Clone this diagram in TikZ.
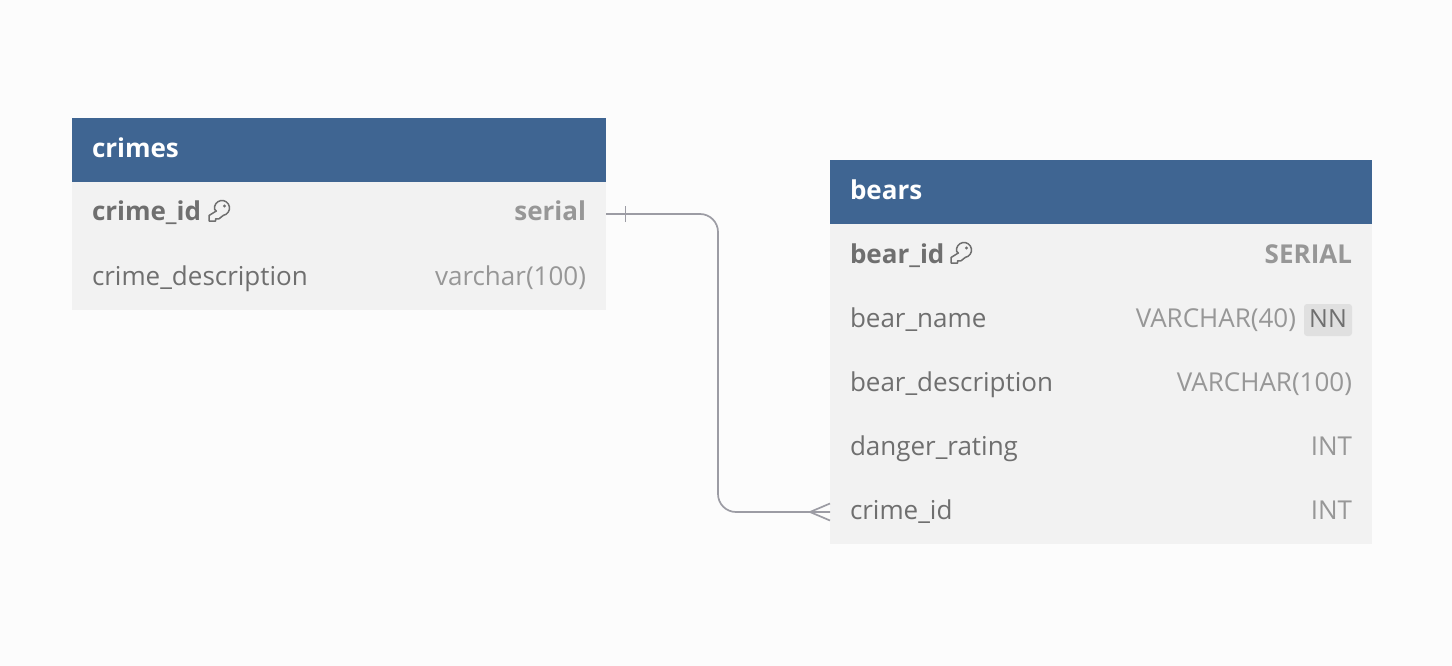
\documentclass[tikz,border=0pt]{standalone}
\usepackage{fontspec}
\setmainfont{Open Sans}
\usetikzlibrary{positioning}
\definecolor{pagebg}{HTML}{FCFCFC}
\definecolor{headblue}{HTML}{3F6592}
\definecolor{rowgray}{HTML}{F2F2F2}
\definecolor{namegray}{HTML}{6F6F6F}
\definecolor{typegray}{HTML}{979797}
\definecolor{nngray}{HTML}{E0E0E0}
\definecolor{relgray}{HTML}{9C9CA4}
\tikzset{
  head/.style={fill=headblue, rectangle, inner sep=0pt, outer sep=0pt, minimum height=64pt},
  row/.style={fill=rowgray, rectangle, inner sep=0pt, outer sep=0pt, minimum height=64pt},
  cell/.style={inner sep=0pt, outer sep=0pt, text height=19pt, text depth=5pt, font=\fontsize{26}{30}\selectfont},
  title/.style={cell, text=white, text height=19.5pt, text depth=4.5pt, font=\fontsize{26}{30}\selectfont\bfseries},
  colname/.style={cell, text=namegray},
  coltype/.style={cell, text=typegray},
  keyname/.style={colname, font=\fontsize{26}{30}\selectfont\bfseries},
  keytype/.style={coltype, font=\fontsize{26}{30}\selectfont\bfseries},
  nntag/.style={fill=nngray, rounded corners=3pt, inner sep=0pt, outer sep=0pt, minimum width=48pt, minimum height=32pt, text height=19pt, text depth=5pt, text=namegray, font=\fontsize{25}{30}\selectfont},
  rel/.style={draw=relgray, line width=1.7pt},
  keyline/.style={draw=namegray, line width=1.5pt, line join=round}
}
\newcommand{\keyicon}[1]{
  \draw[keyline, shift={(#1)}] (-5.4,-2.7) arc[start angle=170, end angle=440, radius=7.5]
    -- (-1,6.8) -- (-4.5,6.8) -- (-4.5,9) -- (-11,9) -- (-11,3.5) -- (-3.7,-1) -- cycle;
  \fill[namegray, shift={(#1)}] (4.5,-6) circle (1.6);
}
\begin{document}
\begin{tikzpicture}[x=1pt,y=-1pt,node distance=0pt]
  \fill[pagebg] (0,0) rectangle (1452,666);
  \useasboundingbox (0,0) rectangle (1452,666);

  \node[head, minimum width=534pt, anchor=north west] (crimes) at (72,118) {};
  \node[row, minimum width=534pt, below=of crimes] (crimesid) {};
  \node[row, minimum width=534pt, below=of crimesid] (crimesdesc) {};
  \node[title, right=20pt of crimes.west] (crimestitle) {crimes};
  \node[keyname, right=20pt of crimesid.west] (crimeidname) {crime\_id};
  \node[keytype, left=20pt of crimesid.east] (crimeidtype) {serial};
  \node[colname, right=20pt of crimesdesc.west] (crimedescname) {crime\_description};
  \node[coltype, left=20pt of crimesdesc.east] (crimedesctype) {varchar(100)};
  \keyicon{220,212}

  \node[head, minimum width=542pt, anchor=north west] (bears) at (830,160) {};
  \node[row, minimum width=542pt, below=of bears] (bearsid) {};
  \node[row, minimum width=542pt, below=of bearsid] (bearsname) {};
  \node[row, minimum width=542pt, below=of bearsname] (bearsdesc) {};
  \node[row, minimum width=542pt, below=of bearsdesc] (bearsrating) {};
  \node[row, minimum width=542pt, below=of bearsrating] (bearscrime) {};
  \node[title, right=20pt of bears.west] (bearstitle) {bears};
  \node[keyname, right=20pt of bearsid.west] (bearidname) {bear\_id};
  \node[keytype, left=20pt of bearsid.east] (bearidtype) {SERIAL};
  \node[colname, right=20pt of bearsname.west] (bearnamename) {bear\_name};
  \node[nntag, left=20pt of bearsname.east] (bearnamenn) {NN};
  \node[coltype, left=8pt of bearnamenn] (bearnametype) {VARCHAR(40)};
  \node[colname, right=20pt of bearsdesc.west] (beardescname) {bear\_description};
  \node[coltype, left=20pt of bearsdesc.east] (beardesctype) {VARCHAR(100)};
  \node[colname, right=20pt of bearsrating.west] (ratingname) {danger\_rating};
  \node[coltype, left=20pt of bearsrating.east] (ratingtype) {INT};
  \node[colname, right=20pt of bearscrime.west] (fkname) {crime\_id};
  \node[coltype, left=20pt of bearscrime.east] (fktype) {INT};
  \keyicon{962,254}

  \coordinate (elbow) at (718,360);
  \coordinate[right=19.5pt of crimesid.east] (tick);
  \coordinate[left=20pt of bearscrime.west] (crow);
  \draw[rel, rounded corners=18pt] (crimesid.east) -| (elbow) |- (bearscrime.west);
  \draw[rel] ([yshift=-8pt]tick) -- ([yshift=8pt]tick);
  \draw[rel] ([yshift=-8.5pt]bearscrime.west) -- (crow) -- ([yshift=8.5pt]bearscrime.west);
\end{tikzpicture}
\end{document}
